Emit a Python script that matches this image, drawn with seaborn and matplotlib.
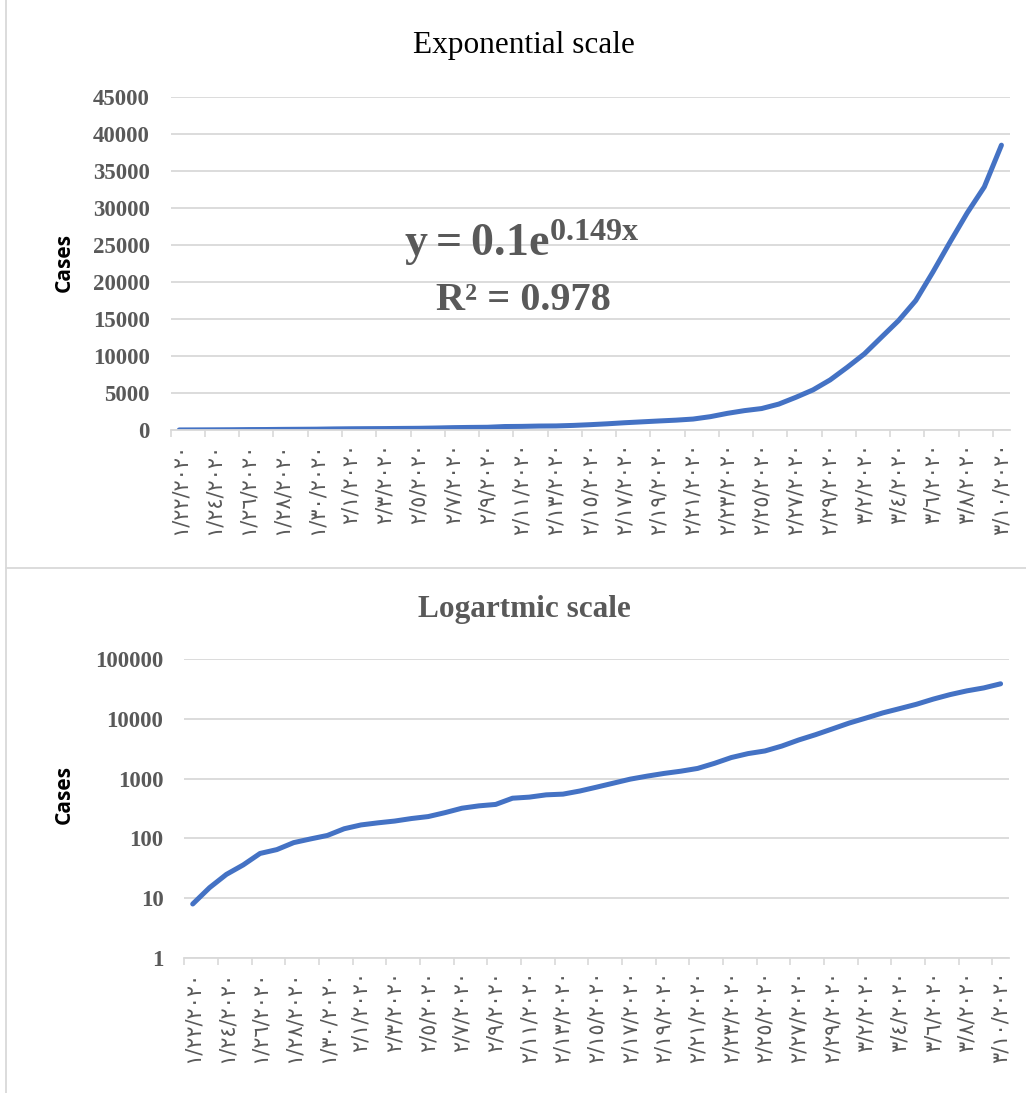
import matplotlib
matplotlib.use("Agg")
import matplotlib.pyplot as plt
from matplotlib.lines import Line2D
import numpy as np
import pandas as pd
import seaborn as sns

# Daily cumulative cases, 22 Jan 2020 - 10 Mar 2020
dates = pd.date_range("2020-01-22", "2020-03-10", freq="D")
cases = [8, 15, 25, 36, 56, 65, 85, 98, 112, 145,
         168, 182, 195, 215, 232, 270, 320, 350, 370, 470,
         490, 535, 550, 620, 720, 840, 980, 1100, 1220, 1330,
         1480, 1800, 2250, 2620, 2900, 3500, 4420, 5420, 6770, 8480,
         10290, 12550, 14800, 17500, 21350, 25400, 29330, 32850, 38490]

# Every second date is labelled on the category axis
tick_labels_latin = ["1/22/2020", "1/24/2020", "1/26/2020", "1/28/2020", "1/30/2020",
                     "2/1/2020", "2/3/2020", "2/5/2020", "2/7/2020", "2/9/2020",
                     "2/11/2020", "2/13/2020", "2/15/2020", "2/17/2020", "2/19/2020",
                     "2/21/2020", "2/23/2020", "2/25/2020", "2/27/2020", "2/29/2020",
                     "3/2/2020", "3/4/2020", "3/6/2020", "3/8/2020", "3/10/2020"]
arabic_digits = str.maketrans("0123456789", "٠١٢٣٤٥٦٧٨٩")
tick_labels = [s.translate(arabic_digits) for s in tick_labels_latin]

linear_ticks = [0, 5000, 10000, 15000, 20000, 25000, 30000, 35000, 40000, 45000]
log_ticks = [1, 10, 100, 1000, 10000, 100000]

df = pd.DataFrame({"day": np.arange(len(dates)), "cases": cases})

sns.set_theme(style="white")
plt.rcParams["mathtext.fontset"] = "custom"
plt.rcParams["mathtext.rm"] = "Liberation Serif"
plt.rcParams["mathtext.bf"] = "Liberation Serif:bold"

W, H = 1026, 1093
fig = plt.figure(figsize=(W / 100, H / 100), dpi=100)
fig.patch.set_facecolor("white")

LINE = "#4472C4"
GRID = "#d9d9d9"
TXT = "#595959"
SERIF = ["Liberation Serif", "DejaVu Serif"]
TICKFONT = ["DejaVu Sans"]


def px(x, y):
    return x / W, 1 - y / H


def style_axis(ax, ticks, ticklabels):
    ax.set_facecolor("white")
    for s in ("top", "left", "right"):
        ax.spines[s].set_visible(False)
    ax.spines["bottom"].set_color(GRID)
    ax.spines["bottom"].set_linewidth(1.3)
    ax.set_xlim(-0.5, len(dates) - 0.5)
    ax.yaxis.grid(True, color=GRID, linewidth=1.3)
    ax.xaxis.grid(False)
    ax.set_axisbelow(True)
    ax.set_xticks(np.arange(0, len(dates), 2))
    ax.set_xticklabels(tick_labels, rotation=90, fontsize=15, color=TXT,
                       family=TICKFONT, ha="center", va="top")
    ax.set_xticks(np.arange(-0.5, len(dates), 2), minor=True)
    ax.tick_params(axis="x", which="major", length=0, pad=9)
    ax.tick_params(axis="x", which="minor", length=5, width=1.2,
                   color=GRID, direction="out", bottom=True)
    ax.set_yticks(ticks)
    ax.set_yticklabels(ticklabels, fontsize=16.5, fontweight="bold",
                       color=TXT, family=SERIF)
    ax.tick_params(axis="y", length=0, pad=15)
    ax.set_xlabel("")
    ax.set_ylabel("")


# Linear panel
ax1 = fig.add_axes([170.7 / W, 1 - 430 / H, (1010 - 170.7) / W, (430 - 97) / H])
sns.lineplot(data=df, x="day", y="cases", ax=ax1, color=LINE,
             linewidth=3.6, solid_capstyle="round")
ax1.set_ylim(0, 45000)
style_axis(ax1, linear_ticks, [str(t) for t in linear_ticks])

# Logarithmic panel
ax2 = fig.add_axes([184.3 / W, 1 - 958 / H, (1009 - 184.3) / W, (958 - 659) / H])
sns.lineplot(data=df, x="day", y="cases", ax=ax2, color=LINE,
             linewidth=3.6, solid_capstyle="round")
ax2.set_yscale("log")
ax2.set_ylim(1, 100000)
ax2.minorticks_off()
style_axis(ax2, log_ticks, [str(t) for t in log_ticks])

# Titles
fig.text(*px(524, 45), "Exponential scale", ha="center", va="center",
         fontsize=22.5, family=SERIF, color="black")
fig.text(*px(524, 610), "Logartmic scale", ha="center", va="center",
         fontsize=22.5, fontweight="bold", family=SERIF, color=TXT)

# Axis titles
fig.text(*px(64, 263), "Cases", rotation=90, ha="center", va="center",
         fontsize=15, fontweight="bold", family=["Open Sans", "DejaVu Sans"],
         color="black")
fig.text(*px(64, 795), "Cases", rotation=90, ha="center", va="center",
         fontsize=15, fontweight="bold", family=["Open Sans", "DejaVu Sans"],
         color="black")

# Trendline equation
fig.text(*px(522, 256), r"$\mathbf{y = 0.1e^{0.149x}}$", ha="center",
         va="baseline", fontsize=33, color=TXT)
fig.text(*px(523, 310), "R² = 0.978", ha="center", va="baseline",
         fontsize=29, fontweight="bold", family=SERIF, color=TXT)

# Chart frames
fig.add_artist(Line2D([6 / W, 6 / W], [0, 1], transform=fig.transFigure,
                      color=GRID, linewidth=1.3))
fig.add_artist(Line2D([6 / W, 1], [1 - 568 / H, 1 - 568 / H],
                      transform=fig.transFigure, color=GRID, linewidth=1.3))

fig.savefig("out.png", dpi=100, facecolor="white")
